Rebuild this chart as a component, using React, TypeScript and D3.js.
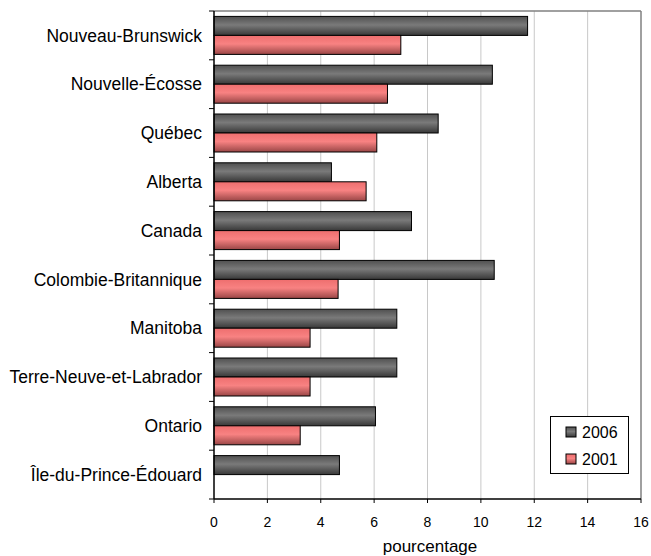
import React from "react";
import * as d3 from "d3";

const categories = [
  "Nouveau-Brunswick",
  "Nouvelle-Écosse",
  "Québec",
  "Alberta",
  "Canada",
  "Colombie-Britannique",
  "Manitoba",
  "Terre-Neuve-et-Labrador",
  "Ontario",
  "Île-du-Prince-Édouard",
];
const values2006 = [11.75, 10.43, 8.4, 4.4, 7.4, 10.5, 6.85, 6.85, 6.05, 4.7];
const values2001: (number | null)[] = [7.0, 6.5, 6.1, 5.7, 4.7, 4.65, 3.6, 3.6, 3.23, null];
const seriesNames = ["2006", "2001"];
const xTicks = [0, 2, 4, 6, 8, 10, 12, 14, 16];
const xTitle = "pourcentage";

const W = 651;
const H = 556;
const left = 214;
const right = 641;
const top = 11;
const bottom = 499;
const font = "'Liberation Sans', Arial, sans-serif";
const narrow = "'Liberation Sans Narrow', 'Arial Narrow', sans-serif";

export default function App() {
  const x = d3.scaleLinear().domain([0, 16]).range([left, right]);
  const y = d3.scaleBand<string>().domain(categories).range([top, bottom]);
  const bw = y.bandwidth();
  const barH = 19;
  const pad = (bw - 2 * barH) / 2;

  return (
    <svg width={W} height={H} style={{ position: "absolute", left: 0, top: 0 }}>
      <defs>
        <linearGradient id="gGray" x1="0" y1="0" x2="0" y2="1">
          <stop offset="0" stopColor="#505050" />
          <stop offset="0.45" stopColor="#7a7a7a" />
          <stop offset="1" stopColor="#383838" />
        </linearGradient>
        <linearGradient id="gRed" x1="0" y1="0" x2="0" y2="1">
          <stop offset="0" stopColor="#ee6e6e" />
          <stop offset="0.45" stopColor="#f88282" />
          <stop offset="1" stopColor="#9a4646" />
        </linearGradient>
      </defs>
      <rect x={0} y={0} width={W} height={H} fill="#fff" />
      {xTicks.slice(1, -1).map((t) => (
        <line key={t} x1={x(t)} x2={x(t)} y1={top} y2={bottom} stroke="#c8c8c8" strokeWidth={1} />
      ))}
      <line x1={left} x2={right} y1={top} y2={top} stroke="#808080" strokeWidth={1.5} />
      <line x1={right} x2={right} y1={top} y2={bottom} stroke="#808080" strokeWidth={1.5} />
      {categories.map((c, i) => {
        const y0 = y(c)!;
        const v1 = values2006[i];
        const v2 = values2001[i];
        return (
          <g key={c}>
            <rect x={x(0)} y={y0 + pad} width={x(v1) - x(0)} height={barH} fill="url(#gGray)" stroke="#000" strokeWidth={1} />
            {v2 != null && (
              <rect x={x(0)} y={y0 + pad + barH} width={x(v2) - x(0)} height={barH} fill="url(#gRed)" stroke="#000" strokeWidth={1} />
            )}
            <text x={202} y={y0 + bw / 2} dy="0.35em" textAnchor="end" fontFamily={font} fontSize={17.5} fill="#000">
              {c}
            </text>
          </g>
        );
      })}
      {categories.map((c) => (
        <line key={"t" + c} x1={left - 5} x2={left} y1={y(c)!} y2={y(c)!} stroke="#000" />
      ))}
      <line x1={left - 5} x2={left} y1={bottom} y2={bottom} stroke="#000" />
      <line x1={left} x2={left} y1={top} y2={bottom} stroke="#000" strokeWidth={1.5} />
      <line x1={left} x2={right} y1={bottom} y2={bottom} stroke="#000" strokeWidth={1.5} />
      {xTicks.map((t) => (
        <g key={"x" + t}>
          <line x1={x(t)} x2={x(t)} y1={bottom} y2={bottom + 4} stroke="#000" />
          <text x={x(t)} y={526.5} textAnchor="middle" fontFamily={narrow} fontSize={14} fill="#000">
            {t}
          </text>
        </g>
      ))}
      <text x={430} y={552} textAnchor="middle" fontFamily={font} fontSize={17} fill="#000">
        {xTitle}
      </text>
      <g>
        <rect x={550.5} y={416.5} width={78} height={57} fill="#fff" stroke="#000" strokeWidth={1} />
        {seriesNames.map((s, i) => (
          <g key={s}>
            <rect x={566} y={427 + i * 27} width={10} height={10} fill={i === 0 ? "url(#gGray)" : "url(#gRed)"} stroke="#000" />
            <text x={582} y={438 + i * 27} fontFamily={font} fontSize={16} fill="#000">
              {s}
            </text>
          </g>
        ))}
      </g>
    </svg>
  );
}
